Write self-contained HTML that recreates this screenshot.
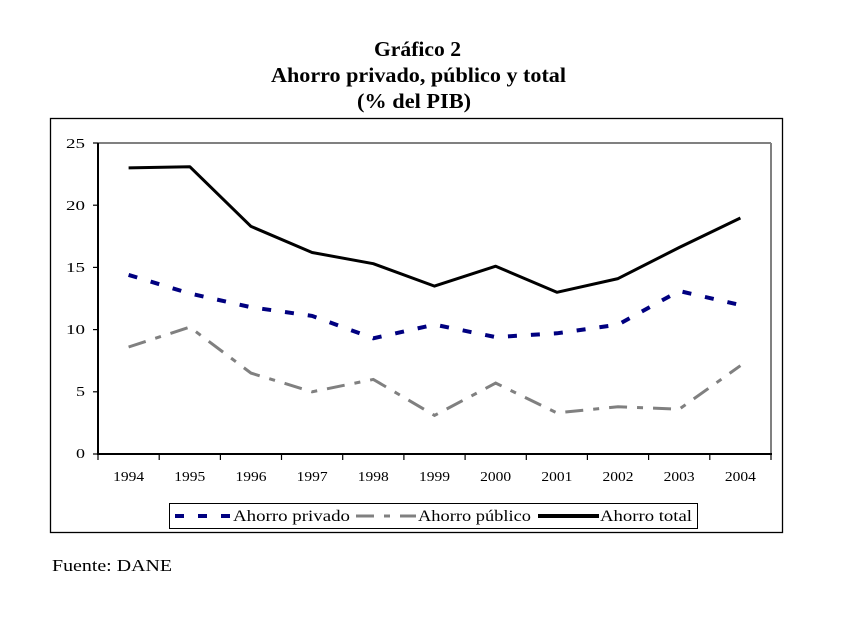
<!DOCTYPE html>
<html>
<head>
<meta charset="utf-8">
<style>
html,body{margin:0;padding:0;background:#fff;}
body{width:858px;height:627px;overflow:hidden;}
svg{display:block;}
</style>
</head>
<body>
<svg width="858" height="627" viewBox="0 0 858 627" xmlns="http://www.w3.org/2000/svg">
  <rect x="0" y="0" width="858" height="627" fill="#fff"/>
  <!-- Title -->
  <g font-family="Liberation Serif, serif" font-weight="bold" font-size="21" fill="#000">
    <text x="374" y="56" textLength="87" lengthAdjust="spacingAndGlyphs">Gráfico 2</text>
    <text x="271" y="82" textLength="295" lengthAdjust="spacingAndGlyphs">Ahorro privado, público y total</text>
    <text x="357" y="108" textLength="114" lengthAdjust="spacingAndGlyphs">(% del PIB)</text>
  </g>
  <!-- Outer frame -->
  <rect x="50.5" y="118.5" width="732" height="414" fill="#fff" stroke="#000" stroke-width="1.3"/>
  <!-- Plot area -->
  <line x1="98" y1="143" x2="771" y2="143" stroke="#808080" stroke-width="2"/>
  <line x1="771" y1="143" x2="771" y2="454" stroke="#808080" stroke-width="2"/>
  <line x1="98" y1="143" x2="98" y2="455" stroke="#000" stroke-width="2"/>
  <line x1="97" y1="454" x2="772" y2="454" stroke="#000" stroke-width="2"/>
  <!-- Y ticks -->
  <g stroke="#000" stroke-width="1.2">
    <line x1="93" y1="143" x2="98" y2="143"/>
    <line x1="93" y1="205.2" x2="98" y2="205.2"/>
    <line x1="93" y1="267.4" x2="98" y2="267.4"/>
    <line x1="93" y1="329.6" x2="98" y2="329.6"/>
    <line x1="93" y1="391.8" x2="98" y2="391.8"/>
    <line x1="93" y1="454" x2="98" y2="454"/>
  </g>
  <g font-family="Liberation Serif, serif" font-size="14" fill="#000">
    <text x="66" y="148" textLength="19" lengthAdjust="spacingAndGlyphs">25</text>
    <text x="66" y="210" textLength="19" lengthAdjust="spacingAndGlyphs">20</text>
    <text x="66" y="272" textLength="19" lengthAdjust="spacingAndGlyphs">15</text>
    <text x="66" y="334" textLength="19" lengthAdjust="spacingAndGlyphs">10</text>
    <text x="76" y="396" textLength="9" lengthAdjust="spacingAndGlyphs">5</text>
    <text x="76" y="458" textLength="9" lengthAdjust="spacingAndGlyphs">0</text>
  </g>
  <!-- X ticks -->
  <g stroke="#000" stroke-width="1.2">
    <line x1="98" y1="454" x2="98" y2="460"/>
    <line x1="159.2" y1="454" x2="159.2" y2="460"/>
    <line x1="220.4" y1="454" x2="220.4" y2="460"/>
    <line x1="281.5" y1="454" x2="281.5" y2="460"/>
    <line x1="342.7" y1="454" x2="342.7" y2="460"/>
    <line x1="403.9" y1="454" x2="403.9" y2="460"/>
    <line x1="465.1" y1="454" x2="465.1" y2="460"/>
    <line x1="526.3" y1="454" x2="526.3" y2="460"/>
    <line x1="587.4" y1="454" x2="587.4" y2="460"/>
    <line x1="648.6" y1="454" x2="648.6" y2="460"/>
    <line x1="709.8" y1="454" x2="709.8" y2="460"/>
    <line x1="771" y1="454" x2="771" y2="460"/>
  </g>
  <g font-family="Liberation Serif, serif" font-size="14" fill="#000">
    <text x="113.1" y="481" textLength="31" lengthAdjust="spacingAndGlyphs">1994</text>
    <text x="174.3" y="481" textLength="31" lengthAdjust="spacingAndGlyphs">1995</text>
    <text x="235.5" y="481" textLength="31" lengthAdjust="spacingAndGlyphs">1996</text>
    <text x="296.6" y="481" textLength="31" lengthAdjust="spacingAndGlyphs">1997</text>
    <text x="357.8" y="481" textLength="31" lengthAdjust="spacingAndGlyphs">1998</text>
    <text x="419.0" y="481" textLength="31" lengthAdjust="spacingAndGlyphs">1999</text>
    <text x="480.2" y="481" textLength="31" lengthAdjust="spacingAndGlyphs">2000</text>
    <text x="541.4" y="481" textLength="31" lengthAdjust="spacingAndGlyphs">2001</text>
    <text x="602.5" y="481" textLength="31" lengthAdjust="spacingAndGlyphs">2002</text>
    <text x="663.7" y="481" textLength="31" lengthAdjust="spacingAndGlyphs">2003</text>
    <text x="724.9" y="481" textLength="31" lengthAdjust="spacingAndGlyphs">2004</text>
  </g>
  <!-- Series: Ahorro total -->
  <polyline fill="none" stroke="#000" stroke-width="3" stroke-linejoin="round"
    points="128.6,167.9 189.8,166.7 251.0,226.4 312.1,252.5 373.3,263.7 434.5,286.1 495.7,266.2 556.9,292.3 618.0,278.6 679.2,247.5 740.4,218.0"/>
  <!-- Series: Ahorro privado -->
  <polyline fill="none" stroke="#000080" stroke-width="4" stroke-dasharray="9,14"
    points="128.6,274.9 189.8,293.5 251.0,307.2 312.1,315.9 373.3,338.3 434.5,324.6 495.7,337.1 556.9,333.3 618.0,324.6 679.2,291.0 740.4,305.0"/>
  <!-- Series: Ahorro publico -->
  <polyline fill="none" stroke="#808080" stroke-width="3" stroke-dasharray="18,10,6,10"
    points="128.6,347.0 189.8,327.1 251.0,373.1 312.1,391.8 373.3,379.4 434.5,415.4 495.7,383.1 556.9,412.9 618.0,406.7 679.2,409.2 740.4,365.7"/>
  <!-- Legend -->
  <rect x="169.5" y="503.5" width="528" height="25" fill="#fff" stroke="#000" stroke-width="1"/>
  <line x1="175" y1="516" x2="232" y2="516" stroke="#000080" stroke-width="4" stroke-dasharray="9,14"/>
  <line x1="356" y1="516" x2="416" y2="516" stroke="#808080" stroke-width="3" stroke-dasharray="18,10,6,10"/>
  <line x1="538" y1="516" x2="599" y2="516" stroke="#000" stroke-width="4"/>
  <g font-family="Liberation Serif, serif" font-size="16" fill="#000">
    <text x="233" y="521" textLength="117" lengthAdjust="spacingAndGlyphs">Ahorro privado</text>
    <text x="418" y="521" textLength="113" lengthAdjust="spacingAndGlyphs">Ahorro público</text>
    <text x="600" y="521" textLength="92" lengthAdjust="spacingAndGlyphs">Ahorro total</text>
  </g>
  <!-- Source -->
  <text x="52" y="571" font-family="Liberation Serif, serif" font-size="17" fill="#000" textLength="120" lengthAdjust="spacingAndGlyphs">Fuente: DANE</text>
</svg>
</body>
</html>
